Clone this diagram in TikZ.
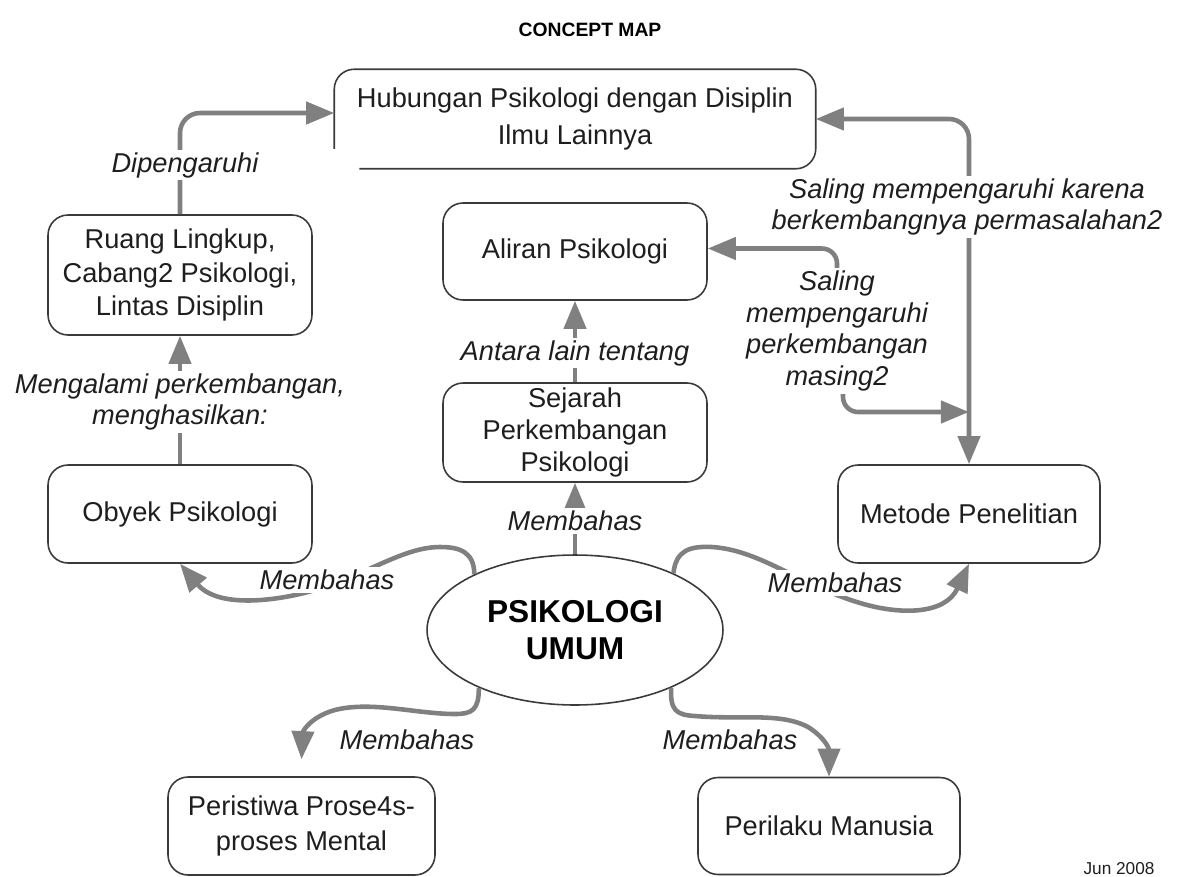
\documentclass[tikz,border=0pt]{standalone}
\usepackage{fontspec}
\setmainfont{Liberation Sans}
\usetikzlibrary{arrows.meta,shapes.geometric,calc}
\definecolor{arr}{HTML}{808080}
\definecolor{bord}{HTML}{3A3A3A}
\definecolor{txt}{HTML}{1E1E1E}
\begin{document}
\begin{tikzpicture}[x=0.02cm, y=-0.02cm,
  box/.style={draw=bord, line width=0.9pt, rounded corners=0.4cm, fill=white, align=center, text=txt, font=\fontsize{15.5}{19}\selectfont, inner sep=2pt},
  conn/.style={draw=arr, line width=2.6pt, -{Triangle[length=16pt,width=12.5pt]}},
  lbl/.style={fill=white, inner sep=1.5pt, align=center, text=txt, font=\fontsize{15.5}{18}\selectfont\itshape},
  dbl/.style={{Triangle[length=16pt,width=12.5pt]}-{Triangle[length=16pt,width=12.5pt]}}
]
\useasboundingbox (0,0) rectangle (1179,876);

\node[font=\fontsize{11}{13}\selectfont\bfseries] (title) at (590,30) {CONCEPT MAP};

% boxes
\node[box, draw=none, minimum width=9.6cm, minimum height=1.96cm, font=\fontsize{15.5}{21}\selectfont] (hub) at (575,119) {Hubungan Psikologi dengan Disiplin\\Ilmu Lainnya};
\draw[draw=bord, line width=0.9pt, rounded corners=0.4cm] ($(hub.south west)+(0,-20)$) -- (hub.north west) -- (hub.north east) -- (hub.south east) -- ($(hub.south west)+(25,0)$);

\node[box, minimum width=5.28cm, minimum height=2.4cm] (ruang) at (180,275) {Ruang Lingkup,\\Cabang2 Psikologi,\\Lintas Disiplin};
\node[box, minimum width=5.28cm, minimum height=1.94cm] (aliran) at (575,251.5) {Aliran Psikologi};
\node[box, minimum width=5.28cm, minimum height=1.98cm, font=\fontsize{15.5}{18.4}\selectfont] (sejarah) at (575,432.5) {Sejarah\\Perkembangan\\Psikologi};
\node[box, minimum width=5.28cm, minimum height=1.96cm] (obyek) at (180,514) {Obyek Psikologi};
\node[box, minimum width=5.24cm, minimum height=1.96cm] (metode) at (969,514) {Metode Penelitian};
\node[box, minimum width=5.34cm, minimum height=1.96cm, font=\fontsize{15.5}{19.8}\selectfont] (peristiwa) at (301.5,826) {Peristiwa Prose4s-\\proses Mental};
\node[box, minimum width=5.24cm, minimum height=1.94cm] (perilaku) at (829,826) {Perilaku Manusia};

\node[ellipse, draw=bord, line width=0.9pt, fill=white, minimum width=5.92cm, minimum height=3cm, inner sep=0pt, align=center, font=\fontsize{18}{21}\selectfont\bfseries, text=black] (psi) at (575,630) {PSIKOLOGI\\UMUM};

\node[lbl] (lsal) at (837,331) {Saling\\mempengaruhi\\perkembangan\\masing2};

% connectors
\draw[conn] (psi.151) .. controls (474,552) and (460,547) .. (440,547) .. controls (400,547) and (360,580) .. (300,594) .. controls (260,603) and (215,605) .. (obyek.south);
\draw[conn] (psi.30) .. controls (676,550) and (690,546) .. (712,547) .. controls (760,550) and (800,585) .. (860,603) .. controls (900,615) and (945,615) .. (metode.south);
\draw[conn] (psi.211) .. controls (479,710) and (472,714) .. (455,714) .. controls (420,714) and (380,703) .. (345,708) .. controls (315,712) and (303,730) .. ([yshift=0.34cm]peristiwa.north);
\draw[conn] (psi.329) .. controls (670,710) and (676,715) .. (695,716) .. controls (740,720) and (780,712) .. (808,727) .. controls (824,737) and (829,748) .. (perilaku.north);

\draw[conn] (psi.north) -- (sejarah.south);
\draw[conn] (sejarah.north) -- (aliran.south);
\draw[conn] (obyek.north) -- (ruang.south);
\draw[conn, rounded corners=0.4cm] (ruang.north) |- ([yshift=0.12cm]hub.west);
\draw[conn, dbl, rounded corners=0.4cm] (hub.east) -| (metode.north);
\draw[conn, rounded corners=0.3cm] (lsal.north) |- ([yshift=0.06cm]aliran.east);
\coordinate (mj) at (969,412);
\draw[conn, rounded corners=0.3cm] ([xshift=0.12cm]lsal.south) |- (mj);

% labels
\node[lbl] (ldip) at (185,165) {Dipengaruhi};
\node[lbl] (lmen) at (180,402) {Mengalami perkembangan,\\menghasilkan:};
\node[lbl] (lant) at (575,353) {Antara lain tentang};
\node[lbl] (lmb1) at (575,521) {Membahas};
\node[lbl] (lmb2) at (327,580) {Membahas};
\node[lbl] (lmb3) at (835,583) {Membahas};
\node[lbl] (lmb4) at (407,740) {Membahas};
\node[lbl] (lmb5) at (730,740) {Membahas};
\node[lbl] (lsk) at (967,207) {Saling mempengaruhi karena\\berkembangnya permasalahan2};

\node[anchor=base, font=\fontsize{9.8}{12}\selectfont, text=txt, inner sep=0pt] (date) at (1119,874) {Jun 2008};
\end{tikzpicture}
\end{document}
